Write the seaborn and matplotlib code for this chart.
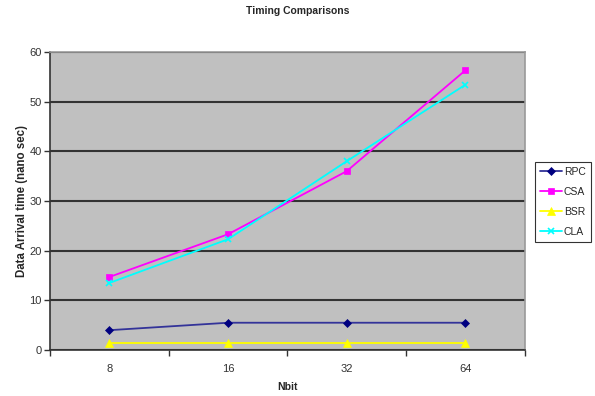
import matplotlib
matplotlib.use("Agg")
import matplotlib.pyplot as plt
import seaborn as sns
import pandas as pd

categories = ["8", "16", "32", "64"]
rpc = [4.0, 5.5, 5.5, 5.5]
csa = [14.7, 23.3, 36.0, 56.3]
bsr = [1.4, 1.4, 1.4, 1.4]
cla = [13.5, 22.3, 38.0, 53.4]
series_names = ["RPC", "CSA", "BSR", "CLA"]

sns.set_style("white")
plt.rcParams['font.family'] = ['Liberation Sans', 'DejaVu Sans']

rows = []
for name, vals in zip(series_names, [rpc, csa, bsr, cla]):
    for i, (c, v) in enumerate(zip(categories, vals)):
        rows.append({"Nbit": c, "pos": i, "value": v, "series": name})
df = pd.DataFrame(rows)

fig = plt.figure(figsize=(5.95, 3.96), dpi=100)
ax = fig.add_axes([0.084, 0.116, 0.798, 0.753])
ax.set_facecolor("#C0C0C0")

palette = {"RPC": "#000080", "CSA": "#FF00FF", "BSR": "#FFFF00", "CLA": "#00FFFF"}
markers = {"RPC": "D", "CSA": "s", "BSR": "^", "CLA": "x"}
sizes = {"RPC": 4, "CSA": 5, "BSR": 6, "CLA": 5}
linecol = {"RPC": "#333399", "CSA": "#FF00FF", "BSR": "#FFFF00", "CLA": "#00FFFF"}

for name in series_names:
    sub = df[df.series == name]
    sns.lineplot(data=sub, x="pos", y="value", ax=ax, color=linecol[name],
                 marker=markers[name], markersize=sizes[name],
                 markerfacecolor=palette[name], markeredgecolor=palette[name],
                 markeredgewidth=1.2 if name == "CLA" else 0.5,
                 linewidth=1.3, label=name, zorder=3)

ax.set_xlim(-0.5, 3.5)
ax.set_ylim(0, 60)
ax.set_yticks(range(0, 61, 10))
ax.set_xticks(range(len(categories)))
ax.set_xticklabels(categories)
ax.set_xticks([-0.5, 0.5, 1.5, 2.5, 3.5], minor=True)
ax.tick_params(which="both", bottom=True, left=True)
ax.tick_params(axis="x", which="major", length=0, pad=10, labelsize=8, colors="#333333")
ax.tick_params(axis="x", which="minor", length=4, width=1, color="#333333", direction="out")
ax.tick_params(axis="y", which="major", length=4, width=1, color="#333333", direction="out", labelsize=8, labelcolor="#333333", pad=2)
ax.yaxis.grid(True, color="#333333", linewidth=1.5, zorder=1)
ax.set_axisbelow(True)

for s in ["top", "right"]:
    ax.spines[s].set_color("#999999")
    ax.spines[s].set_linewidth(1.2)
for s in ["left", "bottom"]:
    ax.spines[s].set_color("#333333")
    ax.spines[s].set_linewidth(1.2)

ax.set_xlabel("Nbit", fontsize=7.5, fontweight="bold", labelpad=6)
ax.set_ylabel("Data Arrival time (nano sec)", fontsize=8.3, fontweight="bold")
ax.yaxis.set_label_coords(-0.046, 0.5)
fig.suptitle("Timing Comparisons", x=0.5, y=0.985, fontsize=7.5, fontweight="bold")

leg = ax.legend(loc="upper left", bbox_to_anchor=(1.021, 0.631), frameon=True,
                fontsize=7.5, handlelength=2.1, handletextpad=0.2,
                borderpad=0.5, borderaxespad=0, labelspacing=0.95, fancybox=False)
leg.get_frame().set_edgecolor("#000000")
leg.get_frame().set_linewidth(0.8)

fig.savefig("out.png", dpi=100)
